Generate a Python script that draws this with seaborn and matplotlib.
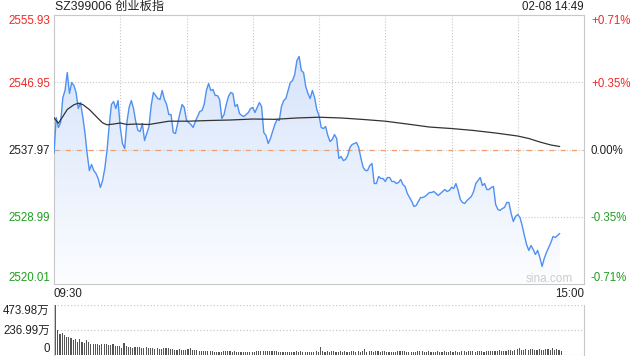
import numpy as np
import pandas as pd
import matplotlib
matplotlib.use('Agg')
import matplotlib.pyplot as plt
import seaborn as sns
from matplotlib.colors import LinearSegmentedColormap

title = 'SZ399006 创业板指'
stamp = '02-08 14:49'
prev_close = 2537.97
price_ticks = [2520.01, 2528.99, 2537.97, 2546.95, 2555.93]
pct_labels = ['-0.71%', '-0.35%', '0.00%', '+0.35%', '+0.71%']
vol_ticks = [0, 236.99, 473.98]
vol_labels = ['0', '236.99万', '473.98万']
time_labels = ['09:30', '15:00']

# last price, one value per minute from 09:30 (index 0) to 14:49 (index 229)
price = [
    2537.44, 2542.24, 2540.91, 2541.57, 2544.91, 2545.85, 2548.25, 2545.45, 2546.91, 2546.51,
    2545.58, 2543.44, 2544.24, 2542.38, 2540.24, 2537.44, 2535.17, 2535.97, 2535.17, 2534.77,
    2534.10, 2532.90, 2533.83, 2535.43, 2537.84, 2541.17, 2543.98, 2544.38, 2543.44, 2544.51,
    2540.91, 2538.77, 2538.10, 2541.57, 2543.58, 2544.51, 2543.44, 2541.71, 2540.51, 2540.37,
    2541.44, 2539.17, 2540.11, 2541.04, 2543.84, 2545.58, 2545.18, 2544.78, 2544.65, 2545.85,
    2544.65, 2543.98, 2542.64, 2542.64, 2540.24, 2540.11, 2541.44, 2542.78, 2543.98, 2543.58,
    2541.84, 2541.57, 2541.31, 2540.91, 2541.71, 2542.38, 2543.04, 2543.18, 2543.98, 2545.85,
    2546.78, 2545.85, 2545.98, 2545.18, 2545.18, 2544.65, 2542.11, 2542.64, 2543.98, 2545.05,
    2545.58, 2545.45, 2543.71, 2543.98, 2542.78, 2542.51, 2542.38, 2542.64, 2542.91, 2543.44,
    2543.58, 2542.91, 2543.58, 2544.24, 2543.71, 2540.24, 2539.84, 2538.77, 2539.44, 2540.37,
    2541.31, 2541.98, 2541.84, 2543.71, 2544.51, 2544.78, 2545.85, 2546.91, 2547.18, 2547.98,
    2549.85, 2550.39, 2548.52, 2548.25, 2546.38, 2545.45, 2544.78, 2545.85, 2544.91, 2543.31,
    2542.51, 2540.91, 2540.77, 2541.04, 2539.84, 2539.04, 2539.31, 2539.97, 2539.44, 2536.77,
    2537.04, 2536.50, 2536.63, 2537.17, 2538.24, 2538.64, 2538.77, 2538.90, 2538.24, 2536.77,
    2535.57, 2535.17, 2535.17, 2535.83, 2536.10, 2533.43, 2533.43, 2534.37, 2534.10, 2534.10,
    2533.70, 2534.23, 2534.23, 2533.70, 2533.70, 2533.43, 2533.56, 2533.96, 2533.30, 2533.03,
    2532.10, 2531.56, 2531.03, 2530.36, 2530.49, 2531.03, 2531.56, 2531.56, 2531.70, 2531.96,
    2532.23, 2532.23, 2532.36, 2532.10, 2531.83, 2532.10, 2532.36, 2532.63, 2532.36, 2532.50,
    2532.90, 2532.76, 2533.43, 2532.50, 2531.29, 2530.89, 2530.76, 2531.16, 2531.43, 2531.70,
    2532.36, 2533.43, 2533.83, 2534.23, 2533.16, 2533.43, 2532.63, 2532.63, 2532.90, 2533.03,
    2530.63, 2529.96, 2529.83, 2530.09, 2530.23, 2530.89, 2530.89, 2529.43, 2528.36, 2529.03,
    2529.29, 2528.89, 2527.82, 2526.49, 2525.29, 2524.49, 2525.15, 2524.62, 2523.95, 2524.49,
    2523.55, 2522.35, 2523.42, 2524.22, 2524.89, 2525.55, 2526.36, 2526.22, 2526.49, 2526.76,
]

# average price line, read at a few minutes
avg_minute = [0, 2, 4, 6, 9, 11, 13, 16, 18, 20, 22, 24, 27, 30, 33, 37, 43, 52, 61, 70,
              80, 90, 100, 110, 120, 130, 140, 150, 160, 170, 180, 190, 200, 210, 215, 220, 225, 229]
avg_price = [2542.20, 2541.48, 2542.38, 2543.31, 2543.94, 2544.15, 2543.98, 2543.31, 2542.71, 2542.11,
             2541.53, 2541.27, 2541.37, 2541.51, 2541.31, 2541.37, 2541.31, 2541.75, 2541.75, 2541.84,
             2541.91, 2542.04, 2542.00, 2542.18, 2542.28, 2542.18, 2541.98, 2541.75, 2541.37, 2540.97,
             2540.77, 2540.51, 2540.17, 2539.77, 2539.44, 2538.97, 2538.57, 2538.37]

# volume per minute, in 万
volume = [
    473.98, 237, 192, 202, 183, 166, 166, 154, 141, 147,
    118, 147, 118, 109, 138, 118, 103, 103, 103, 99,
    90, 96, 103, 96, 93, 87, 103, 80, 80, 80,
    64, 109, 80, 74, 74, 64, 70, 70, 70, 64,
    64, 70, 64, 58, 58, 48, 58, 54, 54, 61,
    61, 58, 48, 48, 42, 42, 48, 45, 45, 45,
    48, 61, 42, 42, 42, 35, 35, 35, 35, 35,
    35, 35, 26, 26, 26, 26, 32, 32, 32, 32,
    26, 32, 22, 22, 22, 22, 22, 26, 26, 26,
    26, 32, 29, 29, 29, 29, 35, 29, 29, 38,
    32, 26, 22, 22, 22, 22, 22, 22, 26, 29,
    26, 32, 26, 22, 22, 26, 22, 26, 29, 26, 70,
    29, 26, 32, 26, 29, 29, 22, 26, 32,
    26, 29, 26, 22, 29, 32, 26, 29, 26, 32,
    54, 26, 29, 29, 26, 35, 29, 26, 32, 29,
    26, 26, 22, 26, 26, 29, 32, 35, 32, 26,
    22, 22, 26, 26, 29, 35, 32, 26, 26, 29,
    26, 22, 26, 29, 26, 22, 29, 26, 26, 32,
    26, 29, 26, 22, 32, 29, 26, 29, 35, 32,
    26, 29, 35, 32, 26, 35, 38, 35, 32, 38,
    35, 42, 38, 38, 32, 42, 45, 38, 42, 48,
    61, 45, 42, 48, 42, 48, 51, 45, 42, 54,
    45, 42, 48, 51, 45, 61, 42, 48, 45, 38,
]

minute = np.arange(len(price))
df = pd.DataFrame({'minute': minute, 'price': price})
avg = pd.DataFrame({'minute': avg_minute, 'price': avg_price})

sns.set_style('white')
plt.rcParams['font.family'] = ['Liberation Sans', 'Noto Sans CJK SC']

RED = '#f02828'
GREEN = '#1f9f1f'
GRID = '#c8c8c8'
FS = 8.3

fig = plt.figure(figsize=(6.4, 3.6), dpi=100)
ax = fig.add_axes([54 / 640, 1 - 284 / 360, 530 / 640, 269 / 360])
axv = fig.add_axes([54 / 640, 1 - 354.5 / 360, 530 / 640, 49.5 / 360])

lo, hi = price_ticks[0], price_ticks[-1]

# gradient fill under the price line
poly = ax.fill_between(df['minute'], df['price'], lo, color='none', lw=0)
cmap = LinearSegmentedColormap.from_list('fade', ['#fcfdff', '#d0e0fa'])
grad = np.linspace(0, 1, 256).reshape(-1, 1)
im = ax.imshow(grad, cmap=cmap, aspect='auto', origin='lower',
               extent=[0, 240, lo, hi], zorder=1)
im.set_clip_path(poly.get_paths()[0], ax.transData)

# grid
for m in range(30, 240, 30):
    ax.axvline(m, color=GRID, ls=':', lw=0.8, zorder=0.5)
for p in (price_ticks[1], price_ticks[3]):
    ax.axhline(p, color=GRID, ls=':', lw=0.8, zorder=0.5)
ax.axhline(prev_close, color=GRID, ls=':', lw=0.8, zorder=2)
ax.axhline(prev_close, color='#f0a070', ls=(0, (4, 5)), lw=0.9, zorder=2)

sns.lineplot(data=df, x='minute', y='price', ax=ax, color='#5090f2', lw=1.0, zorder=3)
sns.lineplot(data=avg, x='minute', y='price', ax=ax, color='#333333', lw=0.9, zorder=3)

ax.set_xlim(0, 240)
ax.set_ylim(lo, hi)
ax.set_xlabel('')
ax.set_ylabel('')
for s in ax.spines.values():
    s.set_color(GRID)
    s.set_linewidth(0.8)

colors = [GREEN, GREEN, '#222222', RED, RED]
ax.set_yticks(price_ticks)
ax.set_yticklabels([f'{p:.2f}' for p in price_ticks])
ax.tick_params(axis='y', length=0, pad=3, labelsize=FS)
for lbl, c in zip(ax.get_yticklabels(), colors):
    lbl.set_color(c)
ax.get_yticklabels()[0].set_va('bottom')
ax.get_yticklabels()[-1].set_va('top')

ax.set_xticks([0, 240])
ax.set_xticklabels(time_labels)
ax.tick_params(axis='x', length=0, pad=3, labelsize=FS, labelcolor='#222222')
ax.get_xticklabels()[0].set_ha('left')
ax.get_xticklabels()[-1].set_ha('right')

axr = ax.twinx()
axr.set_ylim(lo, hi)
axr.set_yticks(price_ticks)
axr.set_yticklabels(pct_labels)
axr.tick_params(axis='y', length=0, pad=5, labelsize=FS)
for lbl, c in zip(axr.get_yticklabels(), colors):
    lbl.set_color(c)
axr.get_yticklabels()[0].set_va('bottom')
axr.get_yticklabels()[-1].set_va('top')
for s in axr.spines.values():
    s.set_visible(False)

# volume panel
axv.bar(minute + 0.7, volume, width=0.5, color='#555555', lw=0, zorder=2)
axv.set_xlim(0, 240)
axv.set_ylim(0, vol_ticks[-1])
for v in vol_ticks:
    axv.axhline(v, color=GRID, ls=':', lw=0.9, zorder=1)
axv.spines['top'].set_visible(False)
axv.spines['bottom'].set_visible(False)
for side in ('left', 'right'):
    axv.spines[side].set_color(GRID)
    axv.spines[side].set_linewidth(0.8)
axv.set_xticks([])
axv.set_yticks(vol_ticks)
axv.set_yticklabels(vol_labels)
axv.tick_params(axis='y', length=0, pad=3, labelsize=FS, labelcolor='#222222')
axv.get_yticklabels()[0].set_va('bottom')
axv.get_yticklabels()[-1].set_va('top')

fig.text(55 / 640, 1 - 7 / 360, title, ha='left', va='center', fontsize=8.8, color='#222222')
fig.text(584 / 640, 1 - 7 / 360, stamp, ha='right', va='center', fontsize=FS, color='#222222')
fig.text(573 / 640, 1 - 279 / 360, 'sina.com', ha='right', va='center', fontsize=8.5, color='#cccccc')

fig.savefig('out.png', dpi=100)
